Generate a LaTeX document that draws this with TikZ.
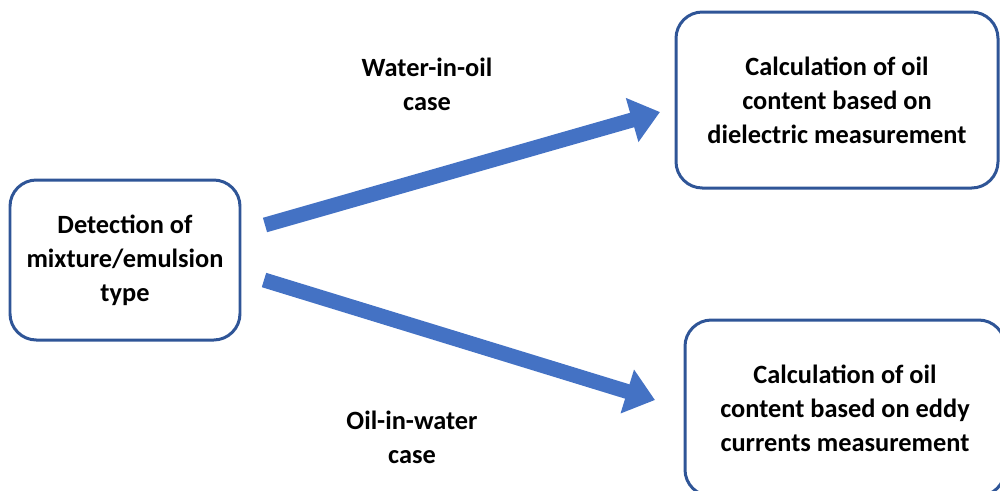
\documentclass[tikz,border=0pt]{standalone}
\usepackage{fontspec}
\setmainfont{Carlito}
\usetikzlibrary{arrows.meta}
\definecolor{boxblue}{HTML}{2F5597}
\definecolor{arrowblue}{HTML}{4472C4}
\tikzset{
  stagebox/.style={draw=boxblue,line width=1.7pt,rounded corners=15pt,fill=white,
    align=center,font=\fontsize{15}{19.3}\selectfont\bfseries,inner sep=0pt},
  caselabel/.style={align=center,font=\fontsize{15}{19.3}\selectfont\bfseries},
  blockarrow/.style={draw=arrowblue,line width=0.3cm,
    -{Triangle[width=0.88cm,length=0.58cm]}}
}
\begin{document}
\begin{tikzpicture}
\useasboundingbox (0,0) rectangle (20,-9.8);
\clip (0,0) rectangle (20,-9.8);
\node[stagebox,minimum width=4.6cm,minimum height=3.2cm] (detect) at (2.5,-5.2)
  {Detection of\\mixture/emulsion\\type};
\node[stagebox,minimum width=6.44cm,minimum height=3.52cm] (dielec) at (16.74,-2.0)
  {Calculation of oil\\content based on\\dielectric measurement};
\node[stagebox,minimum width=6.4cm,minimum height=3.52cm] (eddy) at (16.9,-8.16)
  {Calculation of oil\\content based on eddy\\currents measurement};
\node[caselabel] (wio) at (8.54,-1.69) {Water-in-oil\\case};
\node[caselabel] (oiw) at (8.24,-8.75) {Oil-in-water\\case};
\coordinate (wio-tail) at (5.3,-4.5);
\coordinate (wio-tip) at (13.2,-2.24);
\coordinate (oiw-tail) at (5.28,-5.6);
\coordinate (oiw-tip) at (13.1,-8.0);
\draw[blockarrow] (wio-tail) -- (wio-tip);
\draw[blockarrow] (oiw-tail) -- (oiw-tip);
\end{tikzpicture}
\end{document}
